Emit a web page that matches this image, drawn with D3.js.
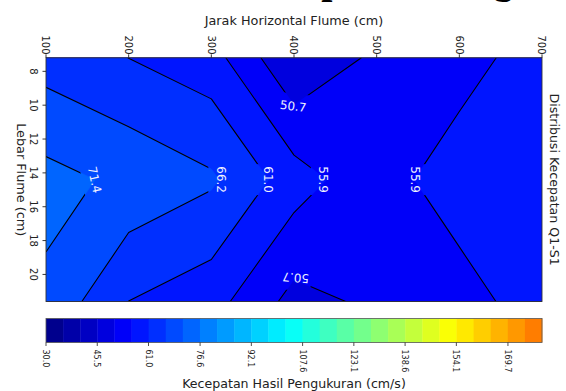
<!DOCTYPE html>
<html>
<head>
<meta charset="utf-8">
<script src="https://cdn.jsdelivr.net/npm/d3@7"></script>
<style>
  body { margin: 0; background: #fff; }
  svg text { font-family: "DejaVu Sans", sans-serif; }
</style>
</head>
<body>
<svg id="chart" width="566" height="391"></svg>
<script>
// Measuring stations along the flume (cm) and across its width (cm)
const jarak = [100, 200, 300, 400, 500, 600, 700];
const lebar = [7.2, 14.4, 21.6];

// Measured velocity (cm/s) at each station, one array per row across the width
const kecTepiAtas  = [64.0, 61.0, 58.0, 45.8, 51.8, 52.2, 60.4];
const kecTengah    = [73.1, 70.2, 67.0, 58.4, 52.0, 60.5, 60.0];
const kecTepiBawah = [70.2, 61.0, 57.9, 49.0, 51.7, 52.1, 60.6];

// Contour levels: 30 evenly spaced levels between 30 and 180 cm/s
const levelMin = 30, levelMax = 180, levelCount = 30;
const levels = d3.range(levelCount).map(i => levelMin + i * (levelMax - levelMin) / (levelCount - 1));

// Axis ticks
const xTicks = [100, 200, 300, 400, 500, 600, 700];
const yTicks = [8, 10, 12, 14, 16, 18, 20];
const cbTicks = [30.0, 45.5, 61.0, 76.6, 92.1, 107.6, 123.1, 138.6, 154.1, 169.7];

// Inline contour labels: level index, position (cm, cm), rotation (deg)
const contourLabels = [
  { lvl: 8, x: 159, y: 14.4, rot: 78 },
  { lvl: 7, x: 311.5, y: 14.4, rot: 90 },
  { lvl: 6, x: 368.5, y: 14.4, rot: 90 },
  { lvl: 5, x: 435.5, y: 14.4, rot: 90 },
  { lvl: 5, x: 547, y: 14.4, rot: 90 },
  { lvl: 4, x: 399, y: 10.05, rot: 7 },
  { lvl: 4, x: 402, y: 20.2, rot: 184 }
];

const svg = d3.select("#chart");

// Plot scales
const x = d3.scaleLinear().domain(d3.extent(jarak)).range([46, 542]);
const y = d3.scaleLinear().domain(d3.extent(lebar)).range([57.8, 301.5]);
const cb = d3.scaleLinear().domain([levelMin, levelMax]).range([46, 542]);

// jet colormap
function jet(t) {
  const c = v => Math.round(255 * Math.max(0, Math.min(1, v)));
  const r = 1.5 - Math.abs(4 * t - 3), g = 1.5 - Math.abs(4 * t - 2), b = 1.5 - Math.abs(4 * t - 1);
  return `rgb(${c(r)},${c(g)},${c(b)})`;
}
const colorNorm = d3.scaleLinear().domain([levelMin, 226]).range([0, 1]);
const bandColor = k => jet(colorNorm((levels[k] + levels[k + 1]) / 2));

// Grid → pixel projection (d3.contours places sample i at i + 0.5)
const nx = jarak.length, ny = lebar.length;
const ix = d3.scaleLinear().domain([0, nx - 1]).range(d3.extent(jarak));
const iy = d3.scaleLinear().domain([0, ny - 1]).range(d3.extent(lebar));
const gridIdx = p => [Math.max(0, Math.min(nx - 1, p[0] - 0.5)), Math.max(0, Math.min(ny - 1, p[1] - 0.5))];
const toPx = g => [x(ix(g[0])), y(iy(g[1]))];

const values = [].concat(kecTepiAtas, kecTengah, kecTepiBawah);
const contours = d3.contours().size([nx, ny]).thresholds(levels.slice(0, -1))(values);

const defs = svg.append("defs");
defs.append("clipPath").attr("id", "plotClip")
  .append("rect").attr("x", x.range()[0]).attr("y", y.range()[0])
  .attr("width", x.range()[1] - x.range()[0]).attr("height", y.range()[1] - y.range()[0]);

// Filled bands
const fillG = svg.append("g").attr("clip-path", "url(#plotClip)");
contours.forEach((c, k) => {
  if (!c.coordinates.length) return;
  const d = c.coordinates.map(poly => poly.map(ring =>
    "M" + ring.map(p => toPx(gridIdx(p)).map(v => v.toFixed(2)).join(",")).join("L") + "Z").join("")).join("");
  fillG.append("path").attr("d", d).attr("fill", bandColor(k))
    .attr("stroke", bandColor(k)).attr("stroke-width", 0.6).attr("fill-rule", "evenodd");
});

// Label gaps in the contour lines
const mask = defs.append("mask").attr("id", "labelGaps").attr("maskUnits", "userSpaceOnUse")
  .attr("x", 0).attr("y", 0).attr("width", 566).attr("height", 391);
mask.append("rect").attr("width", 566).attr("height", 391).attr("fill", "#fff");
contourLabels.forEach(l => {
  mask.append("rect")
    .attr("x", -15.5).attr("y", -12.5).attr("width", 31).attr("height", 25)
    .attr("fill", "#000")
    .attr("transform", `translate(${x(l.x)},${y(l.y)}) rotate(${l.rot})`);
});

// Contour lines (interior segments only)
const lineG = svg.append("g").attr("mask", "url(#labelGaps)").attr("clip-path", "url(#plotClip)");
const onBorder = (a, b) =>
  (a[0] === b[0] && (a[0] === 0 || a[0] === nx - 1)) ||
  (a[1] === b[1] && (a[1] === 0 || a[1] === ny - 1));
contours.forEach(c => {
  let d = "";
  c.coordinates.forEach(poly => poly.forEach(ring => {
    const g = ring.map(gridIdx);
    let pen = false;
    for (let i = 1; i < g.length; i++) {
      const a = g[i - 1], b = g[i];
      if (onBorder(a, b)) { pen = false; continue; }
      const pa = toPx(a), pb = toPx(b);
      if (!pen) d += "M" + pa[0].toFixed(2) + "," + pa[1].toFixed(2);
      d += "L" + pb[0].toFixed(2) + "," + pb[1].toFixed(2);
      pen = true;
    }
  }));
  if (d) lineG.append("path").attr("d", d).attr("fill", "none")
    .attr("stroke", "#000").attr("stroke-width", 1.1).attr("stroke-linejoin", "round");
});

// Inline labels
svg.append("g").selectAll("text").data(contourLabels).join("text")
  .attr("transform", l => `translate(${x(l.x)},${y(l.y)}) rotate(${l.rot})`)
  .attr("text-anchor", "middle").attr("dy", "0.36em")
  .attr("font-size", 12).attr("fill", "#eef0ff")
  .text(l => levels[l.lvl].toFixed(1));

// Frame
svg.append("rect").attr("x", x.range()[0]).attr("y", y.range()[0])
  .attr("width", x.range()[1] - x.range()[0]).attr("height", y.range()[1] - y.range()[0])
  .attr("fill", "none").attr("stroke", "#333").attr("stroke-width", 0.9);

// Top axis
const topAxis = svg.append("g");
xTicks.forEach(t => {
  topAxis.append("line").attr("x1", x(t)).attr("x2", x(t)).attr("y1", y.range()[0]).attr("y2", y.range()[0] - 3.5)
    .attr("stroke", "#222").attr("stroke-width", 0.9);
  topAxis.append("text").attr("transform", `translate(${x(t)},54.5) rotate(90)`)
    .attr("text-anchor", "end").attr("dy", "0.36em").attr("font-size", 10).attr("fill", "#222").text(t);
});
svg.append("text").attr("x", (x.range()[0] + x.range()[1]) / 2).attr("y", 24.5)
  .attr("text-anchor", "middle").attr("font-size", 12.8).attr("fill", "#222")
  .text("Jarak Horizontal Flume (cm)");

// Left axis
const leftAxis = svg.append("g");
yTicks.forEach(t => {
  leftAxis.append("line").attr("x1", x.range()[0]).attr("x2", x.range()[0] - 3.5).attr("y1", y(t)).attr("y2", y(t))
    .attr("stroke", "#222").attr("stroke-width", 0.9);
  leftAxis.append("text").attr("transform", `translate(33.5,${y(t)}) rotate(90)`)
    .attr("text-anchor", "middle").attr("dy", "0.36em").attr("font-size", 10).attr("fill", "#222").text(t);
});
svg.append("text").attr("transform", `translate(16.5,${(y.range()[0] + y.range()[1]) / 2}) rotate(90)`)
  .attr("text-anchor", "middle").attr("font-size", 12.8).attr("fill", "#222").text("Lebar Flume (cm)");

// Right side caption
svg.append("text").attr("transform", `translate(549.5,${(y.range()[0] + y.range()[1]) / 2}) rotate(90)`)
  .attr("text-anchor", "middle").attr("font-size", 12.6).attr("fill", "#222").text("Distribusi Kecepatan Q1-S1");

// Colorbar
const cbTop = 318.5, cbBottom = 342.5;
const cbG = svg.append("g");
d3.range(levels.length - 1).forEach(k => {
  cbG.append("rect").attr("x", cb(levels[k])).attr("y", cbTop)
    .attr("width", cb(levels[k + 1]) - cb(levels[k]) + 0.4).attr("height", cbBottom - cbTop)
    .attr("fill", bandColor(k));
});
cbG.append("rect").attr("x", cb.range()[0]).attr("y", cbTop)
  .attr("width", cb.range()[1] - cb.range()[0]).attr("height", cbBottom - cbTop)
  .attr("fill", "none").attr("stroke", "#555").attr("stroke-width", 0.8);
cbTicks.forEach(t => {
  cbG.append("line").attr("x1", cb(t)).attr("x2", cb(t)).attr("y1", cbBottom).attr("y2", cbBottom + 3.5)
    .attr("stroke", "#222").attr("stroke-width", 0.8);
  cbG.append("text").attr("transform", `translate(${cb(t)},349.5) rotate(90)`)
    .attr("text-anchor", "start").attr("dy", "0.36em").attr("font-size", 8).attr("fill", "#222")
    .text(t.toFixed(1));
});
svg.append("text").attr("x", (cb.range()[0] + cb.range()[1]) / 2).attr("y", 387.5)
  .attr("text-anchor", "middle").attr("font-size", 12.6).attr("fill", "#222")
  .text("Kecepatan Hasil Pengukuran (cm/s)");

// Figure title (sits mostly above the canvas edge)
svg.append("text").attr("x", 58).attr("y", -7.5)
  .style("font-family", "'Liberation Serif', serif")
  .attr("font-weight", "bold").attr("font-size", 40).attr("fill", "#000")
  .text("Distribusi Kecepatan Pengukuran");
</script>
</body>
</html>
